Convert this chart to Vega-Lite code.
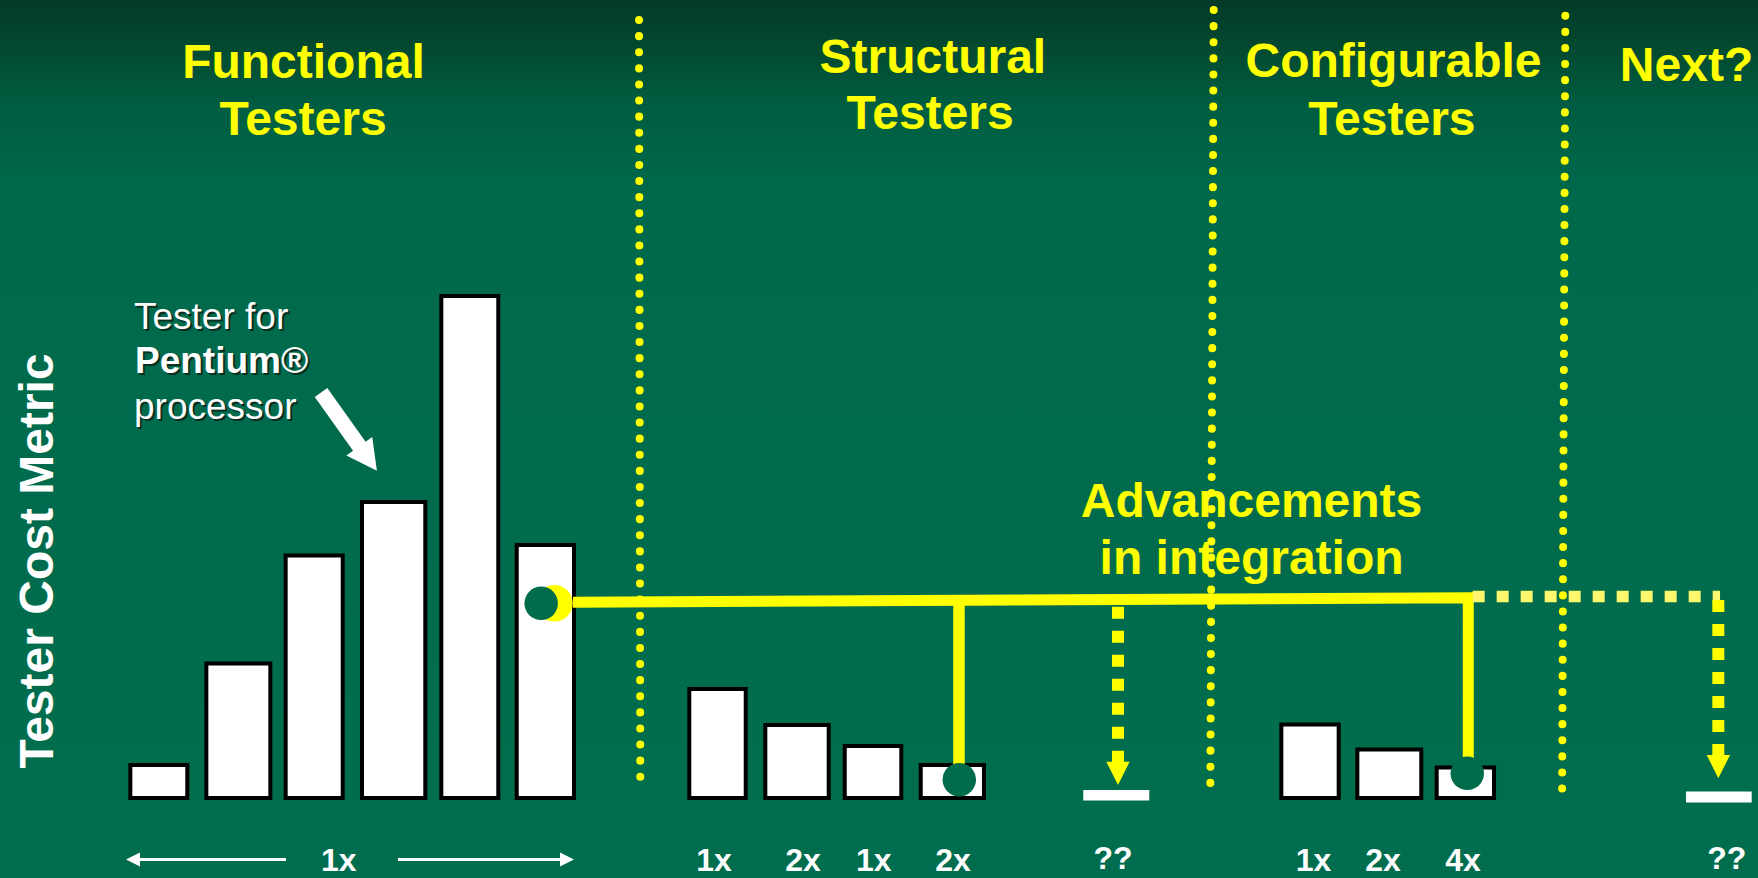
{
  "$schema": "https://vega.github.io/schema/vega-lite/v6.json",
  "width": 1758,
  "height": 878,
  "padding": 0,
  "autosize": {"type": "none"},
  "background": "#006e4e",
  "config": {"view": {"stroke": null}},
  "datasets": {
    "testers": [
      {"group": "Functional", "start": 0.634, "end": 1.370, "cost": 6.6},
      {"group": "Functional", "start": 1.616, "end": 2.443, "cost": 26.9},
      {"group": "Functional", "start": 2.641, "end": 3.378, "cost": 48.5},
      {"group": "Functional", "start": 3.627, "end": 4.445, "cost": 59.2},
      {"group": "Functional", "start": 4.652, "end": 5.388, "cost": 100.4},
      {"group": "Functional", "start": 5.626, "end": 6.366, "cost": 50.6},
      {"group": "Structural", "start": 7.856, "end": 8.585, "cost": 21.8},
      {"group": "Structural", "start": 8.838, "end": 9.657, "cost": 14.6},
      {"group": "Structural", "start": 9.864, "end": 10.595, "cost": 10.4},
      {"group": "Structural", "start": 10.846, "end": 11.663, "cost": 6.6},
      {"group": "Configurable", "start": 15.505, "end": 16.246, "cost": 14.7},
      {"group": "Configurable", "start": 16.487, "end": 17.313, "cost": 9.7},
      {"group": "Configurable", "start": 17.512, "end": 18.253, "cost": 6.1}
    ],
    "unknown": [
      {"group": "Structural", "start": 12.946, "end": 13.799, "low": -0.5, "high": 1.6},
      {"group": "Next", "start": 20.733, "end": 21.582, "low": -0.9, "high": 1.3}
    ],
    "dividers": [
      {"x": 7.206, "y": 155.6, "x2": 7.223, "y2": 1.8},
      {"x": 14.631, "y": 157.6, "x2": 14.587, "y2": 0.46},
      {"x": 19.174, "y": 156.46, "x2": 19.132, "y2": -0.74}
    ],
    "trend": [
      {"k": 1, "x": 6.353, "y": 39.14},
      {"k": 2, "x": 17.92, "y": 40.06},
      {"k": 3, "x": 17.92, "y": 7.2}
    ],
    "drop": [{"x": 11.34, "y": 39.54, "y2": 5.6}],
    "projection": [{"x": 17.977, "x2": 21.173, "y": 40.3}],
    "forecast": [
      {"x": 13.395, "y": 38.26, "y2": 7.2},
      {"x": 21.151, "y": 39.6, "y2": 8.6}
    ],
    "forecastHeads": [
      {"x": 13.395, "y": 4.93},
      {"x": 21.151, "y": 6.27}
    ],
    "halo": [{"x": 6.113, "y": 38.94}],
    "nodes": [
      {"x": 5.942, "y": 38.94},
      {"x": 11.344, "y": 3.66},
      {"x": 17.907, "y": 4.94}
    ],
    "pointer": [{"x": 3.459, "y": 73.26}],
    "spanLines": [
      {"x": 0.6944, "x2": 2.645, "y": -12.3},
      {"x": 4.092, "x2": 6.211, "y": -12.3}
    ],
    "titles": [
      {"text": "Functional", "x": 2.871, "y": 144.1},
      {"text": "Testers", "x": 2.865, "y": 132.7},
      {"text": "Structural", "x": 11.002, "y": 145.1},
      {"text": "Testers", "x": 10.966, "y": 133.8},
      {"text": "Configurable", "x": 16.954, "y": 144.2},
      {"text": "Testers", "x": 16.934, "y": 132.6},
      {"text": "Next?", "x": 20.74, "y": 143.4},
      {"text": "Advancements", "x": 15.12, "y": 56.2},
      {"text": "in integration", "x": 15.12, "y": 44.9}
    ],
    "notes": [
      {"text": "Tester for", "x": 0.6815, "y": 93.8, "weight": "normal"},
      {"text": "Pentium®", "x": 0.6945, "y": 85.0, "weight": "bold"},
      {"text": "processor", "x": 0.6815, "y": 75.88, "weight": "normal"}
    ],
    "multipliers": [
      {"text": "1x", "x": 3.328, "y": -14.6},
      {"text": "1x", "x": 8.175, "y": -14.6},
      {"text": "2x", "x": 9.325, "y": -14.6},
      {"text": "1x", "x": 10.24, "y": -14.6},
      {"text": "2x", "x": 11.263, "y": -14.6},
      {"text": "??", "x": 13.33, "y": -14.2},
      {"text": "1x", "x": 15.921, "y": -14.6},
      {"text": "2x", "x": 16.818, "y": -14.6},
      {"text": "4x", "x": 17.852, "y": -14.6},
      {"text": "??", "x": 21.259, "y": -14.2}
    ]
  },
  "layer": [
    {
      "data": {"values": [{}]},
      "mark": {
        "type": "rect",
        "fill": {
          "gradient": "linear", "x1": 0, "y1": 0, "x2": 0, "y2": 1,
          "stops": [
            {"offset": 0, "color": "#023a28"},
            {"offset": 0.05, "color": "#03482f"},
            {"offset": 0.12, "color": "#005d41"},
            {"offset": 0.22, "color": "#00694b"},
            {"offset": 1, "color": "#006e4e"}
          ]
        }
      },
      "encoding": {
        "x": {"datum": -1.0498, "type": "quantitative", "scale": {"domain": [-1.0498, 21.6634], "nice": false, "zero": false}, "axis": null},
        "x2": {"datum": 21.6634},
        "y": {"datum": -16, "type": "quantitative", "scale": {"domain": [-16, 159.6], "nice": false, "zero": false}, "axis": null},
        "y2": {"datum": 159.6}
      }
    },
    {
      "data": {"name": "dividers"},
      "mark": {"type": "rule", "color": "#ffff00", "strokeWidth": 8, "strokeCap": "round", "strokeDash": [0.1, 16]},
      "encoding": {
        "x": {"field": "x", "type": "quantitative", "scale": {"domain": [-1.0498, 21.6634], "nice": false, "zero": false}, "axis": null},
        "x2": {"field": "x2"},
        "y": {"field": "y", "type": "quantitative", "scale": {"domain": [-16, 159.6], "nice": false, "zero": false}, "axis": null},
        "y2": {"field": "y2"}
      }
    },
    {
      "data": {"name": "testers"},
      "mark": {"type": "rect", "fill": "#ffffff", "stroke": "#000000", "strokeWidth": 4},
      "encoding": {
        "x": {"field": "start", "type": "quantitative", "scale": {"domain": [-1.0498, 21.6634], "nice": false, "zero": false}, "axis": null},
        "x2": {"field": "end"},
        "y": {"field": "cost", "type": "quantitative", "scale": {"domain": [-16, 159.6], "nice": false, "zero": false}, "axis": null},
        "y2": {"datum": 0}
      }
    },
    {
      "data": {"name": "unknown"},
      "mark": {"type": "rect", "fill": "#ffffff"},
      "encoding": {
        "x": {"field": "start", "type": "quantitative", "scale": {"domain": [-1.0498, 21.6634], "nice": false, "zero": false}, "axis": null},
        "x2": {"field": "end"},
        "y": {"field": "low", "type": "quantitative", "scale": {"domain": [-16, 159.6], "nice": false, "zero": false}, "axis": null},
        "y2": {"field": "high"}
      }
    },
    {
      "data": {"name": "halo"},
      "mark": {"type": "point", "shape": "circle", "filled": true, "fill": "#ffff00", "opacity": 1, "strokeWidth": 0, "size": 1340},
      "encoding": {
        "x": {"field": "x", "type": "quantitative", "scale": {"domain": [-1.0498, 21.6634], "nice": false, "zero": false}, "axis": null},
        "y": {"field": "y", "type": "quantitative", "scale": {"domain": [-16, 159.6], "nice": false, "zero": false}, "axis": null}
      }
    },
    {
      "data": {"name": "trend"},
      "mark": {"type": "line", "color": "#ffff00", "strokeWidth": 11, "strokeJoin": "miter", "strokeCap": "butt"},
      "encoding": {
        "x": {"field": "x", "type": "quantitative", "scale": {"domain": [-1.0498, 21.6634], "nice": false, "zero": false}, "axis": null},
        "y": {"field": "y", "type": "quantitative", "scale": {"domain": [-16, 159.6], "nice": false, "zero": false}, "axis": null},
        "order": {"field": "k", "type": "quantitative"}
      }
    },
    {
      "data": {"name": "drop"},
      "mark": {"type": "rule", "color": "#ffff00", "strokeWidth": 11.5, "strokeCap": "butt"},
      "encoding": {
        "x": {"field": "x", "type": "quantitative", "scale": {"domain": [-1.0498, 21.6634], "nice": false, "zero": false}, "axis": null},
        "y": {"field": "y", "type": "quantitative", "scale": {"domain": [-16, 159.6], "nice": false, "zero": false}, "axis": null},
        "y2": {"field": "y2"}
      }
    },
    {
      "data": {"name": "projection"},
      "mark": {"type": "rule", "color": "#fff66e", "strokeWidth": 11.6, "strokeCap": "butt", "strokeDash": [12, 12]},
      "encoding": {
        "x": {"field": "x", "type": "quantitative", "scale": {"domain": [-1.0498, 21.6634], "nice": false, "zero": false}, "axis": null},
        "x2": {"field": "x2"},
        "y": {"field": "y", "type": "quantitative", "scale": {"domain": [-16, 159.6], "nice": false, "zero": false}, "axis": null}
      }
    },
    {
      "data": {"name": "forecast"},
      "mark": {"type": "rule", "color": "#ffff00", "strokeWidth": 12, "strokeCap": "butt", "strokeDash": [12, 12]},
      "encoding": {
        "x": {"field": "x", "type": "quantitative", "scale": {"domain": [-1.0498, 21.6634], "nice": false, "zero": false}, "axis": null},
        "y": {"field": "y", "type": "quantitative", "scale": {"domain": [-16, 159.6], "nice": false, "zero": false}, "axis": null},
        "y2": {"field": "y2"}
      }
    },
    {
      "data": {"name": "forecastHeads"},
      "mark": {"type": "point", "shape": "M-1,-1L1,-1L0,1Z", "filled": true, "fill": "#ffff00", "opacity": 1, "strokeWidth": 0, "size": 543},
      "encoding": {
        "x": {"field": "x", "type": "quantitative", "scale": {"domain": [-1.0498, 21.6634], "nice": false, "zero": false}, "axis": null},
        "y": {"field": "y", "type": "quantitative", "scale": {"domain": [-16, 159.6], "nice": false, "zero": false}, "axis": null}
      }
    },
    {
      "data": {"name": "nodes"},
      "mark": {"type": "point", "shape": "circle", "filled": true, "fill": "#016c4c", "opacity": 1, "strokeWidth": 0, "size": 1120},
      "encoding": {
        "x": {"field": "x", "type": "quantitative", "scale": {"domain": [-1.0498, 21.6634], "nice": false, "zero": false}, "axis": null},
        "y": {"field": "y", "type": "quantitative", "scale": {"domain": [-16, 159.6], "nice": false, "zero": false}, "axis": null}
      }
    },
    {
      "data": {"name": "pointer"},
      "mark": {"type": "point", "shape": "M-0.16,-1L0.16,-1L0.16,0.37L0.33,0.37L0,1L-0.33,0.37L-0.16,0.37Z", "filled": true, "fill": "#ffffff", "opacity": 1, "strokeWidth": 0, "size": 9254, "angle": 324.5},
      "encoding": {
        "x": {"field": "x", "type": "quantitative", "scale": {"domain": [-1.0498, 21.6634], "nice": false, "zero": false}, "axis": null},
        "y": {"field": "y", "type": "quantitative", "scale": {"domain": [-16, 159.6], "nice": false, "zero": false}, "axis": null}
      }
    },
    {
      "data": {"name": "spanLines"},
      "mark": {"type": "rule", "color": "#ffffff", "strokeWidth": 3},
      "encoding": {
        "x": {"field": "x", "type": "quantitative", "scale": {"domain": [-1.0498, 21.6634], "nice": false, "zero": false}, "axis": null},
        "x2": {"field": "x2"},
        "y": {"field": "y", "type": "quantitative", "scale": {"domain": [-16, 159.6], "nice": false, "zero": false}, "axis": null}
      }
    },
    {
      "data": {"values": [{"x": 0.6686, "y": -12.3}]},
      "mark": {"type": "point", "shape": "M1,-1L1,1L-1,0Z", "filled": true, "fill": "#ffffff", "opacity": 1, "strokeWidth": 0, "size": 196},
      "encoding": {
        "x": {"field": "x", "type": "quantitative", "scale": {"domain": [-1.0498, 21.6634], "nice": false, "zero": false}, "axis": null},
        "y": {"field": "y", "type": "quantitative", "scale": {"domain": [-16, 159.6], "nice": false, "zero": false}, "axis": null}
      }
    },
    {
      "data": {"values": [{"x": 6.276, "y": -12.3}]},
      "mark": {"type": "point", "shape": "M-1,-1L-1,1L1,0Z", "filled": true, "fill": "#ffffff", "opacity": 1, "strokeWidth": 0, "size": 196},
      "encoding": {
        "x": {"field": "x", "type": "quantitative", "scale": {"domain": [-1.0498, 21.6634], "nice": false, "zero": false}, "axis": null},
        "y": {"field": "y", "type": "quantitative", "scale": {"domain": [-16, 159.6], "nice": false, "zero": false}, "axis": null}
      }
    },
    {
      "data": {"name": "titles"},
      "mark": {"type": "text", "font": "Liberation Sans", "fontWeight": "bold", "fontSize": 48, "fill": "#ffff00", "align": "center", "baseline": "alphabetic"},
      "encoding": {
        "x": {"field": "x", "type": "quantitative", "scale": {"domain": [-1.0498, 21.6634], "nice": false, "zero": false}, "axis": null},
        "y": {"field": "y", "type": "quantitative", "scale": {"domain": [-16, 159.6], "nice": false, "zero": false}, "axis": null},
        "text": {"field": "text"}
      }
    },
    {
      "data": {"values": [{"text": "Tester Cost Metric", "x": -0.3714, "y": 47.4}]},
      "mark": {"type": "text", "font": "Liberation Sans", "fontWeight": "bold", "fontSize": 48, "fill": "#ffffff", "align": "center", "baseline": "alphabetic", "angle": 270},
      "encoding": {
        "x": {"field": "x", "type": "quantitative", "scale": {"domain": [-1.0498, 21.6634], "nice": false, "zero": false}, "axis": null},
        "y": {"field": "y", "type": "quantitative", "scale": {"domain": [-16, 159.6], "nice": false, "zero": false}, "axis": null},
        "text": {"field": "text"}
      }
    },
    {
      "data": {"name": "notes"},
      "transform": [{"filter": "datum.weight === 'normal'"}],
      "layer": [
        {"mark": {"type": "text", "font": "Liberation Sans", "fontSize": 37, "fill": "#0a2e1f", "align": "left", "baseline": "alphabetic", "dx": 2, "dy": 2}},
        {"mark": {"type": "text", "font": "Liberation Sans", "fontSize": 37, "fill": "#ffffff", "align": "left", "baseline": "alphabetic"}}
      ],
      "encoding": {
        "x": {"field": "x", "type": "quantitative", "scale": {"domain": [-1.0498, 21.6634], "nice": false, "zero": false}, "axis": null},
        "y": {"field": "y", "type": "quantitative", "scale": {"domain": [-16, 159.6], "nice": false, "zero": false}, "axis": null},
        "text": {"field": "text"}
      }
    },
    {
      "data": {"name": "notes"},
      "transform": [{"filter": "datum.weight === 'bold'"}],
      "layer": [
        {"mark": {"type": "text", "font": "Liberation Sans", "fontWeight": "bold", "fontSize": 37, "fill": "#0a2e1f", "align": "left", "baseline": "alphabetic", "dx": 2, "dy": 2}},
        {"mark": {"type": "text", "font": "Liberation Sans", "fontWeight": "bold", "fontSize": 37, "fill": "#ffffff", "align": "left", "baseline": "alphabetic"}}
      ],
      "encoding": {
        "x": {"field": "x", "type": "quantitative", "scale": {"domain": [-1.0498, 21.6634], "nice": false, "zero": false}, "axis": null},
        "y": {"field": "y", "type": "quantitative", "scale": {"domain": [-16, 159.6], "nice": false, "zero": false}, "axis": null},
        "text": {"field": "text"}
      }
    },
    {
      "data": {"name": "multipliers"},
      "mark": {"type": "text", "font": "Liberation Sans", "fontWeight": "bold", "fontSize": 32, "fill": "#ffffff", "align": "center", "baseline": "alphabetic"},
      "encoding": {
        "x": {"field": "x", "type": "quantitative", "scale": {"domain": [-1.0498, 21.6634], "nice": false, "zero": false}, "axis": null},
        "y": {"field": "y", "type": "quantitative", "scale": {"domain": [-16, 159.6], "nice": false, "zero": false}, "axis": null},
        "text": {"field": "text"}
      }
    }
  ]
}
